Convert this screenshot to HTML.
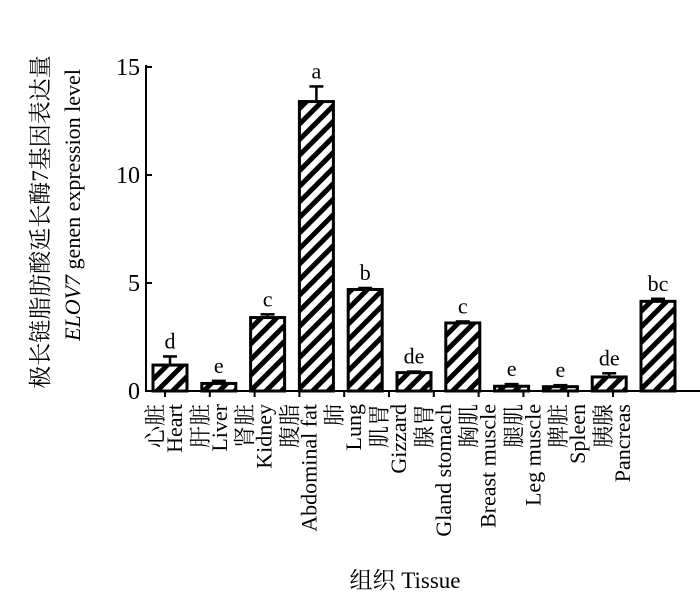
<!DOCTYPE html>
<html><head><meta charset="utf-8"><style>
body{margin:0;background:#fff;}
svg text{font-family:"Liberation Serif","Noto Serif CJK SC",serif;fill:#000;}
</style></head><body>
<svg id="chart" width="700" height="603" xmlns="http://www.w3.org/2000/svg">
<defs>
<pattern id="hatch" patternUnits="userSpaceOnUse" width="11" height="11" patternTransform="rotate(45)">
<rect width="11" height="11" fill="#fff"/>
<rect x="0" y="0" width="5" height="11" fill="#000"/>
</pattern>
</defs>
<g id="plot"></g>
<text transform="translate(48,222) rotate(-90)" text-anchor="middle" font-size="23">极长链脂肪酸延长酶7基因表达量</text>
<text transform="translate(80,205) rotate(-90)" text-anchor="middle" font-size="22"><tspan font-style="italic">ELOV7</tspan> genen expression level</text>
<text x="405" y="588" text-anchor="middle" font-size="23">组织  Tissue</text>
</svg>
<script>
const categoriesCn = ["心脏","肝脏","肾脏","腹脂","肺","肌胃","腺胃","胸肌","腿肌","脾脏","胰腺"];
const categoriesEn = ["Heart","Liver","Kidney","Abdominal fat","Lung","Gizzard","Gland stomach","Breast muscle","Leg muscle","Spleen","Pancreas"];
const values = [1.2,0.35,3.4,13.4,4.7,0.85,3.15,0.22,0.2,0.65,4.15];
const errors = [0.4,0.12,0.15,0.7,0.07,0.05,0.07,0.1,0.07,0.17,0.12];
const sigLetters = ["d","e","c","a","b","de","c","e","e","de","bc"];
const yTicks = [0,5,10,15];

const NS="http://www.w3.org/2000/svg";
const g=document.getElementById('plot');
const x0=146, y0=391, pxPerUnit=21.6;
const y=v=>y0-v*pxPerUnit;
const barX=i=>170+i*48.8;
const tickX=i=>165+i*44.8;
const bw=34;
function mk(t,a){const e=document.createElementNS(NS,t);for(const k in a)e.setAttribute(k,a[k]);g.appendChild(e);return e;}

let ax=mk('line',{x1:x0,y1:y(15)-2,x2:x0,y2:y0+1,stroke:'#000','stroke-width':2});


let bx=mk('line',{x1:x0,y1:y0,x2:700,y2:y0,stroke:'#000','stroke-width':2});


yTicks.forEach(t=>{
  let l=mk('line',{x1:x0,y1:y(t),x2:x0+6,y2:y(t),stroke:'#000','stroke-width':2});
  
  
  let tx=mk('text',{x:x0-6,y:y(t)+8,'text-anchor':'end','font-size':24});
  tx.textContent=t;
  
  
});
categoriesCn.forEach((c,i)=>{
  const cx=barX(i), v=values[i], e=errors[i];
  let el=mk('line',{x1:cx,y1:y(v),x2:cx,y2:y(v+e),stroke:'#000','stroke-width':2.5});
  
  
  let ec=mk('line',{x1:cx-7,y1:y(v+e),x2:cx+7,y2:y(v+e),stroke:'#000','stroke-width':2.5});
  
  
  let r=mk('rect',{x:cx-bw/2,y:y(v),width:bw,height:Math.max(v*pxPerUnit,0.5),fill:'url(#hatch)',stroke:'#000','stroke-width':3});
  
  
  let s=mk('text',{x:cx,y:y(v+e)-8,'text-anchor':'middle','font-size':22});
  s.textContent=sigLetters[i];
  
  
  const tx=tickX(i);
  let tk=mk('line',{x1:tx,y1:y0,x2:tx,y2:y0+6,stroke:'#000','stroke-width':2});
  
  
  let lc=mk('text',{transform:`translate(${tx-2},404) rotate(-90)`,'text-anchor':'end','font-size':22});
  lc.textContent=c;
  
  
  let le=mk('text',{transform:`translate(${tx+17},404) rotate(-90)`,'text-anchor':'end','font-size':22});
  le.textContent=categoriesEn[i];
  
  
});
</script>
</body></html>
